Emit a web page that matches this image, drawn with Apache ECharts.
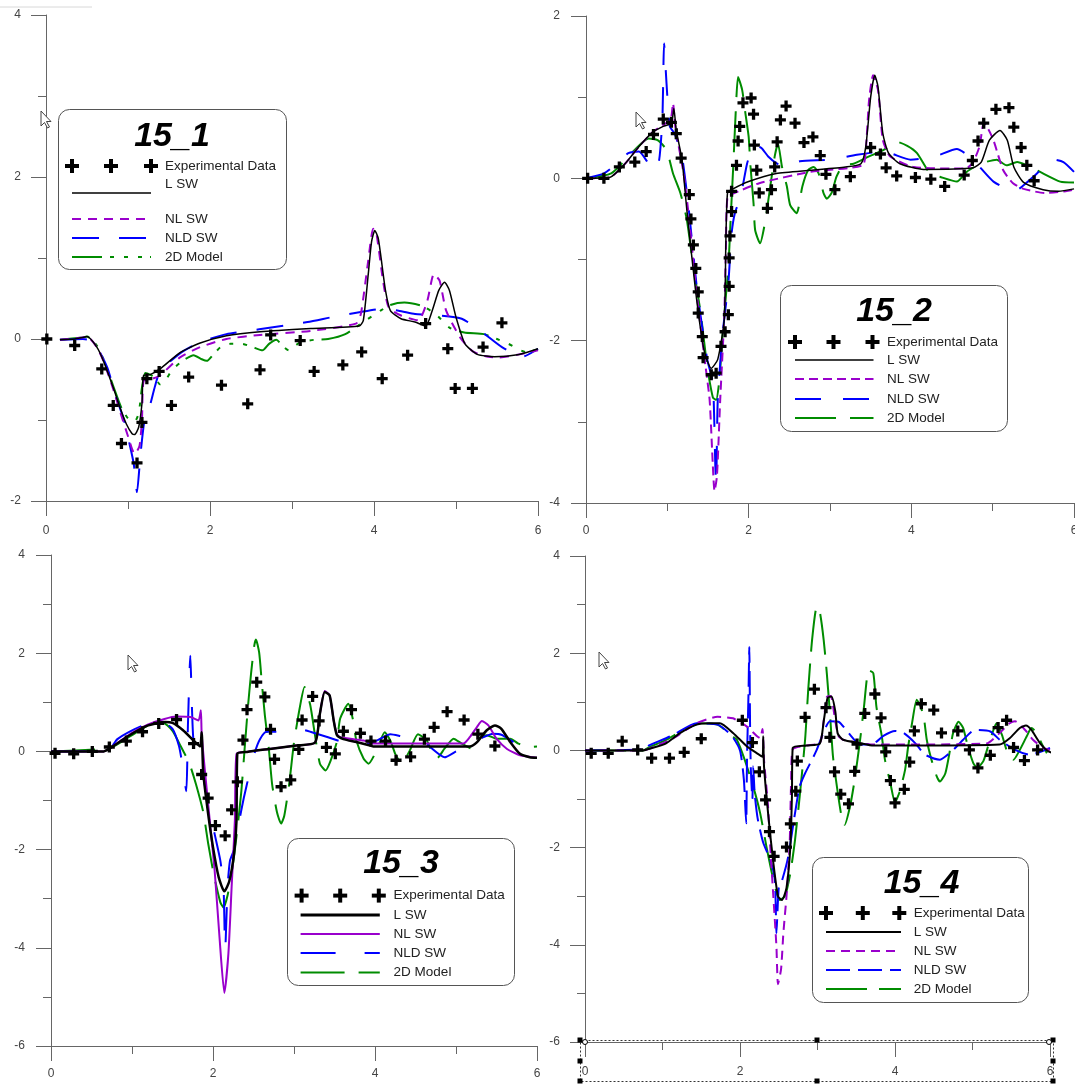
<!DOCTYPE html>
<html><head><meta charset="utf-8">
<script src="https://cdn.jsdelivr.net/npm/echarts@6.0.0/dist/echarts.min.js"></script>
<style>html,body{margin:0;padding:0;background:#fff}#c{width:1075px;height:1084px}</style>
</head><body><div id="c"></div>
<script>
// ---------------- DATA ----------------
const xTicks = [0, 2, 4, 6];
const panelTitles = ['15_1', '15_2', '15_3', '15_4'];
const seriesNames = ['Experimental Data', 'L SW', 'NL SW', 'NLD SW', '2D Model'];
const yRanges = [[-2, 4], [-4, 2], [-6, 4], [-6, 4]];

// Panel 15_1
const p1_exp = [[0.01,0.0],[0.35,-0.08],[0.68,-0.37],[0.82,-0.82],[0.92,-1.29],[1.11,-1.53],[1.17,-1.03],[1.23,-0.49],[1.38,-0.40],[1.53,-0.82],[1.74,-0.47],[2.14,-0.57],[2.46,-0.80],[2.61,-0.38],[2.74,0.05],[3.10,-0.02],[3.27,-0.40],[3.62,-0.32],[3.85,-0.16],[4.10,-0.49],[4.41,-0.20],[4.63,0.19],[4.90,-0.12],[4.99,-0.61],[5.20,-0.61],[5.33,-0.10],[5.56,0.20]];
const p1_lsw = [[0.17,-0.01],[0.35,0.0],[0.45,0.02],[0.5,0.03],[0.62,-0.10],[0.70,-0.27],[0.82,-0.60],[0.90,-0.84],[0.98,-1.05],[1.05,-1.17],[1.08,-1.18],[1.13,-1.09],[1.17,-0.80],[1.19,-0.45],[1.27,-0.44],[1.39,-0.37],[1.63,-0.17],[1.88,-0.05],[2.20,0.04],[2.61,0.09],[3.23,0.13],[3.82,0.16],[3.87,0.23],[3.93,0.80],[3.97,1.20],[4.01,1.34],[4.05,1.25],[4.08,1.05],[4.14,0.60],[4.20,0.35],[4.33,0.25],[4.50,0.21],[4.63,0.16],[4.71,0.35],[4.79,0.60],[4.86,0.70],[4.92,0.60],[5.00,0.27],[5.11,-0.06],[5.26,-0.19],[5.47,-0.22],[5.77,-0.19],[6.0,-0.12]];
const p1_nl = [[0.17,-0.01],[0.45,0.02],[0.5,0.03],[0.62,-0.10],[0.70,-0.27],[0.82,-0.62],[0.92,-0.95],[1.0,-1.20],[1.05,-1.36],[1.08,-1.42],[1.14,-1.32],[1.17,-1.0],[1.19,-0.52],[1.27,-0.50],[1.39,-0.45],[1.63,-0.23],[1.88,-0.10],[2.20,0.0],[2.61,0.05],[3.23,0.10],[3.78,0.19],[3.84,0.31],[3.93,0.97],[3.99,1.36],[4.03,1.30],[4.11,0.72],[4.18,0.39],[4.33,0.29],[4.54,0.23],[4.65,0.47],[4.73,0.80],[4.80,0.72],[4.88,0.35],[5.05,0.02],[5.20,-0.15],[5.35,-0.21],[5.51,-0.23],[5.77,-0.19],[6.0,-0.14]];
const p1_nld = [[0.17,-0.01],[0.45,0.0],[0.55,-0.02],[0.65,-0.15],[0.75,-0.36],[0.85,-0.70],[0.95,-1.0],[1.02,-1.30],[1.07,-1.54],[1.11,-1.89],[1.15,-1.45],[1.20,-1.01],[1.26,-0.85],[1.33,-0.58],[1.39,-0.40],[1.63,-0.18],[1.88,-0.04],[2.20,0.06],[2.60,0.12],[3.19,0.21],[3.49,0.27],[3.82,0.33],[4.08,0.37],[4.30,0.35],[4.50,0.31],[4.80,0.29],[5.07,0.25],[5.30,0.10],[5.56,-0.10],[5.81,-0.22],[6.0,-0.12]];
const p1_2d = [[0.17,-0.01],[0.45,0.02],[0.5,0.03],[0.62,-0.08],[0.70,-0.25],[0.82,-0.58],[0.92,-0.85],[1.0,-0.98],[1.08,-1.02],[1.13,-0.92],[1.17,-0.60],[1.21,-0.42],[1.27,-0.44],[1.33,-0.48],[1.39,-0.56],[1.45,-0.52],[1.54,-0.38],[1.68,-0.26],[1.80,-0.20],[1.90,-0.25],[1.96,-0.27],[2.05,-0.18],[2.13,-0.10],[2.25,-0.06],[2.39,-0.06],[2.52,-0.10],[2.64,-0.14],[2.72,-0.06],[2.81,-0.01],[2.88,-0.08],[2.96,-0.14],[3.03,-0.09],[3.10,-0.04],[3.27,-0.01],[3.44,0.0],[3.65,0.06],[3.87,0.21],[4.08,0.35],[4.20,0.42],[4.37,0.45],[4.58,0.41],[4.75,0.31],[4.92,0.14],[5.10,0.08],[5.34,0.06],[5.50,0.0],[5.64,-0.06],[5.85,-0.16],[6.0,-0.13]];

// Panel 15_2
const p2_exp = [[0.02,0],[0.22,0],[0.41,0.14],[0.60,0.20],[0.74,0.33],[0.83,0.54],[0.95,0.73],[1.05,0.69],[1.11,0.55],[1.17,0.25],[1.27,-0.20],[1.29,-0.50],[1.32,-0.82],[1.35,-1.11],[1.38,-1.40],[1.38,-1.66],[1.43,-1.95],[1.44,-2.21],[1.54,-2.42],[1.60,-2.40],[1.66,-2.07],[1.71,-1.89],[1.75,-1.68],[1.76,-1.33],[1.76,-0.98],[1.77,-0.71],[1.79,-0.41],[1.79,-0.16],[1.85,0.16],[1.87,0.46],[1.89,0.64],[1.93,0.93],[2.03,0.99],[2.06,0.79],[2.07,0.41],[2.10,0.10],[2.13,-0.18],[2.23,-0.37],[2.28,-0.14],[2.32,0.14],[2.35,0.45],[2.39,0.72],[2.46,0.89],[2.57,0.68],[2.68,0.44],[2.79,0.51],[2.88,0.28],[2.95,0.05],[3.06,-0.14],[3.25,0.02],[3.50,0.38],[3.62,0.30],[3.69,0.13],[3.82,0.03],[4.05,0.01],[4.24,-0.01],[4.41,-0.10],[4.65,0.04],[4.75,0.22],[4.82,0.46],[4.89,0.68],[5.04,0.85],[5.20,0.87],[5.26,0.63],[5.35,0.38],[5.42,0.16],[5.51,-0.03]];
const p2_lsw = [[0,0],[0.29,0.01],[0.48,0.18],[0.65,0.39],[0.82,0.57],[0.95,0.64],[1.05,0.68],[1.08,0.86],[1.11,0.59],[1.18,0.23],[1.24,-0.39],[1.35,-1.41],[1.45,-2.11],[1.54,-2.34],[1.62,-2.23],[1.70,-1.74],[1.72,-0.76],[1.74,-0.18],[1.79,-0.14],[2.0,-0.04],[2.34,0.06],[2.76,0.10],[3.19,0.14],[3.38,0.18],[3.44,0.39],[3.50,1.0],[3.55,1.27],[3.59,1.13],[3.65,0.55],[3.72,0.31],[3.86,0.18],[4.15,0.11],[4.76,0.13],[4.86,0.20],[4.96,0.47],[5.09,0.59],[5.18,0.47],[5.26,0.14],[5.38,-0.05],[5.62,-0.14],[5.81,-0.16],[6.0,-0.13]];
const p2_nl = [[0,0],[0.29,0.01],[0.48,0.18],[0.65,0.39],[0.82,0.57],[0.95,0.66],[1.04,0.72],[1.07,0.92],[1.10,0.62],[1.20,0.06],[1.26,-0.43],[1.37,-1.50],[1.47,-2.32],[1.52,-2.73],[1.56,-3.55],[1.58,-3.85],[1.61,-3.67],[1.65,-2.73],[1.70,-1.70],[1.72,-0.88],[1.74,-0.23],[1.83,-0.18],[2.13,-0.06],[2.76,0.08],[3.40,0.16],[3.44,0.35],[3.48,0.96],[3.53,1.27],[3.59,1.09],[3.65,0.47],[3.74,0.27],[4.03,0.14],[4.67,0.12],[4.76,0.20],[4.84,0.40],[4.89,0.68],[4.95,0.60],[5.01,0.47],[5.13,0.10],[5.25,-0.06],[5.38,-0.13],[5.64,-0.18],[5.90,-0.16],[6.0,-0.14]];
const p2_nld = [[0,0],[0.22,0.06],[0.40,0.20],[0.52,0.31],[0.65,0.33],[0.77,0.18],[0.84,0.10],[0.90,0.23],[0.94,0.76],[0.96,1.66],[0.99,1.17],[1.03,0.64],[1.09,0.55],[1.18,0.27],[1.26,-0.35],[1.37,-1.41],[1.49,-2.23],[1.56,-2.52],[1.59,-3.55],[1.60,-3.77],[1.62,-2.73],[1.68,-1.91],[1.75,-1.29],[1.79,-0.68],[1.83,-0.43],[1.90,-0.23],[1.98,0.18],[2.04,0.36],[2.08,0.41],[2.16,0.37],[2.24,0.27],[2.35,0.18],[2.45,0.14],[2.63,0.21],[3.0,0.23],[3.33,0.29],[3.66,0.33],[3.99,0.23],[4.29,0.27],[4.56,0.36],[4.70,0.28],[4.84,0.14],[5.01,-0.04],[5.26,-0.16],[5.50,0.02],[5.75,0.23],[5.87,0.20],[6.0,0.08]];
const p2_2d = [[0,0],[0.31,0.06],[0.56,0.31],[0.77,0.49],[0.88,0.47],[0.99,0.35],[1.07,0.06],[1.16,-0.18],[1.24,-0.51],[1.32,-1.09],[1.41,-1.66],[1.49,-2.32],[1.56,-2.70],[1.60,-2.73],[1.64,-2.48],[1.68,-1.91],[1.75,-1.09],[1.78,-0.47],[1.81,0.14],[1.84,0.80],[1.87,1.25],[1.92,1.09],[1.96,0.80],[2.0,0.51],[2.02,0.18],[2.06,-0.31],[2.08,-0.64],[2.14,-0.80],[2.20,-0.55],[2.26,-0.14],[2.32,0.27],[2.36,0.43],[2.41,0.14],[2.47,-0.10],[2.51,-0.33],[2.59,-0.43],[2.66,-0.10],[2.73,0.10],[2.80,0.14],[2.86,0.06],[2.92,-0.18],[2.96,-0.25],[3.02,-0.18],[3.08,0.02],[3.16,0.16],[3.29,0.18],[3.48,0.27],[3.66,0.35],[3.82,0.45],[3.95,0.40],[4.07,0.31],[4.23,0.06],[4.35,0.02],[4.56,-0.04],[4.68,0.08],[4.85,0.18],[5.05,0.23],[5.17,0.16],[5.30,0.20],[5.54,0.10],[5.83,-0.04],[6.0,-0.05]];

// Panel 15_3
const p3_exp = [[0.05,-0.04],[0.28,-0.05],[0.51,0.0],[0.72,0.09],[0.93,0.21],[1.13,0.40],[1.33,0.57],[1.55,0.65],[1.76,0.16],[1.86,-0.47],[1.94,-0.95],[2.03,-1.51],[2.15,-1.72],[2.23,-1.19],[2.30,-0.62],[2.37,0.23],[2.42,0.85],[2.54,1.41],[2.64,1.11],[2.71,0.45],[2.76,-0.16],[2.84,-0.72],[2.96,-0.58],[3.06,0.04],[3.10,0.64],[3.23,1.12],[3.31,0.62],[3.40,0.08],[3.51,-0.05],[3.61,0.41],[3.71,0.85],[3.82,0.37],[3.95,0.21],[4.13,0.21],[4.26,-0.18],[4.44,-0.11],[4.61,0.25],[4.73,0.49],[4.89,0.81],[5.10,0.64],[5.27,0.35],[5.48,0.11]];
const p3_lsw = [[0,0],[0.65,0],[0.77,0.11],[0.99,0.35],[1.20,0.53],[1.41,0.60],[1.50,0.58],[1.63,0.43],[1.76,0.22],[1.84,0.10],[1.86,0.39],[1.88,-0.45],[1.94,-1.27],[2.0,-1.95],[2.07,-2.56],[2.14,-2.85],[2.20,-2.65],[2.26,-2.08],[2.29,-1.41],[2.30,-0.05],[2.42,-0.01],[2.70,0.05],[3.03,0.12],[3.26,0.18],[3.32,0.77],[3.38,1.21],[3.44,1.14],[3.49,0.63],[3.53,0.33],[3.61,0.25],[3.77,0.19],[3.94,0.12],[3.98,0.10],[5.17,0.10],[5.26,0.19],[5.38,0.43],[5.48,0.53],[5.56,0.46],[5.67,0.19],[5.79,-0.05],[5.91,-0.12],[6.0,-0.13]];
const p3_nl = [[0,0],[0.65,0],[0.77,0.11],[0.99,0.37],[1.20,0.55],[1.40,0.66],[1.55,0.71],[1.72,0.70],[1.82,0.63],[1.85,0.84],[1.86,0.36],[1.90,-0.39],[1.96,-1.41],[2.02,-2.42],[2.08,-3.78],[2.14,-4.92],[2.19,-4.12],[2.23,-2.76],[2.27,-1.41],[2.29,-0.05],[2.42,-0.01],[2.70,0.05],[3.03,0.12],[3.26,0.18],[3.32,0.77],[3.38,1.23],[3.44,1.14],[3.49,0.63],[3.53,0.35],[3.57,0.29],[3.86,0.22],[3.98,0.16],[5.09,0.16],[5.17,0.29],[5.26,0.50],[5.32,0.62],[5.40,0.53],[5.50,0.26],[5.63,0.05],[5.79,-0.08],[6.0,-0.13]];
const p3_nld = [[0,0],[0.70,0.02],[0.82,0.25],[0.99,0.42],[1.20,0.57],[1.37,0.60],[1.50,0.46],[1.58,0.11],[1.62,-0.25],[1.67,-0.81],[1.69,0.50],[1.72,1.95],[1.74,0.90],[1.76,0.20],[1.80,0.09],[1.88,-0.52],[1.95,-1.13],[2.02,-1.68],[2.09,-2.22],[2.13,-2.76],[2.15,-4.06],[2.18,-2.76],[2.21,-2.22],[2.26,-2.0],[2.32,-1.45],[2.38,-0.95],[2.45,-0.45],[2.52,0.0],[2.58,0.25],[2.66,0.40],[2.83,0.40],[3.11,0.44],[3.22,0.39],[3.40,0.30],[3.61,0.19],[3.90,0.16],[4.02,0.22],[4.19,0.35],[4.35,0.30],[4.56,0.26],[4.68,0.09],[4.86,-0.12],[5.0,0.0],[5.21,0.16],[5.34,0.29],[5.46,0.36],[5.56,0.34],[5.70,0.20],[5.91,-0.01],[6.0,-0.08]];
const p3_2d = [[0,0],[0.73,0.07],[0.99,0.32],[1.20,0.53],[1.37,0.60],[1.50,0.42],[1.60,0.11],[1.71,-0.25],[1.79,-0.67],[1.88,-1.24],[1.94,-1.87],[2.01,-2.51],[2.09,-3.07],[2.13,-3.18],[2.18,-2.93],[2.24,-2.37],[2.30,-1.59],[2.35,-0.81],[2.39,0.04],[2.43,0.88],[2.47,1.59],[2.51,2.16],[2.53,2.28],[2.57,2.01],[2.60,1.45],[2.64,0.74],[2.69,0.04],[2.73,-0.67],[2.79,-1.24],[2.84,-1.47],[2.88,-1.31],[2.94,-0.67],[3.0,0.18],[3.07,0.88],[3.13,1.31],[3.20,0.95],[3.26,0.32],[3.32,-0.25],[3.39,-0.39],[3.45,-0.20],[3.53,0.20],[3.57,0.67],[3.67,0.97],[3.73,0.63],[3.77,0.22],[3.86,-0.15],[3.92,-0.25],[4.02,0.02],[4.12,0.39],[4.19,0.22],[4.25,-0.05],[4.33,-0.25],[4.43,0.02],[4.53,0.35],[4.64,0.22],[4.70,-0.01],[4.76,-0.15],[4.86,0.06],[4.97,0.26],[5.07,0.16],[5.19,0.06],[5.28,0.26],[5.38,0.33],[5.50,0.26],[5.67,0.26],[5.77,0.16],[5.91,0.09],[6.0,0.10]];

// Panel 15_4
const p4_exp = [[0.08,-0.06],[0.30,-0.06],[0.48,0.19],[0.68,0.01],[0.86,-0.16],[1.09,-0.16],[1.28,-0.04],[1.50,0.24],[2.03,0.62],[2.16,0.16],[2.25,-0.44],[2.33,-1.02],[2.38,-1.67],[2.44,-2.18],[2.60,-1.99],[2.65,-1.51],[2.72,-0.84],[2.74,-0.22],[2.84,0.68],[2.96,1.26],[3.11,0.88],[3.16,0.27],[3.22,-0.44],[3.30,-0.90],[3.40,-1.10],[3.48,-0.43],[3.51,0.13],[3.61,0.76],[3.74,1.16],[3.82,0.67],[3.88,-0.03],[3.94,-0.62],[4.0,-1.08],[4.12,-0.80],[4.19,-0.24],[4.25,0.40],[4.34,0.96],[4.50,0.83],[4.60,0.36],[4.81,0.40],[4.96,0.01],[5.07,-0.36],[5.23,-0.10],[5.33,0.47],[5.44,0.62],[5.53,0.06],[5.67,-0.21],[5.84,0.01]];
const p4_lsw = [[0,0],[0.75,0],[0.82,0.03],[1.04,0.14],[1.22,0.35],[1.44,0.53],[1.60,0.56],[1.74,0.56],[1.91,0.36],[2.09,0.08],[2.22,-0.06],[2.29,-0.13],[2.30,0.29],[2.31,-0.33],[2.37,-1.42],[2.43,-2.31],[2.49,-3.0],[2.54,-3.08],[2.60,-2.83],[2.65,-1.97],[2.67,-0.95],[2.68,0.05],[2.86,0.10],[3.03,0.14],[3.08,0.60],[3.13,1.08],[3.18,1.11],[3.23,0.80],[3.26,0.35],[3.33,0.22],[3.55,0.15],[3.72,0.10],[4.30,0.10],[5.35,0.12],[5.48,0.25],[5.61,0.46],[5.69,0.51],[5.76,0.42],[5.87,0.15],[5.98,-0.02],[6.13,-0.09],[6.24,-0.12]];
const p4_nl = [[0,0],[0.75,0.0],[0.82,0.03],[1.13,0.24],[1.44,0.56],[1.71,0.69],[1.91,0.66],[2.09,0.49],[2.22,0.29],[2.26,0.25],[2.29,0.44],[2.31,-0.20],[2.36,-1.11],[2.39,-1.97],[2.43,-3.0],[2.47,-4.03],[2.49,-4.81],[2.53,-4.50],[2.56,-3.75],[2.60,-3.0],[2.64,-1.97],[2.66,-0.60],[2.68,0.02],[2.86,0.10],[3.03,0.15],[3.08,0.60],[3.12,1.10],[3.17,1.12],[3.23,0.60],[3.27,0.30],[3.33,0.22],[3.55,0.15],[3.72,0.12],[5.18,0.14],[5.35,0.36],[5.48,0.56],[5.55,0.60],[5.68,0.42],[5.78,0.22],[5.91,0.05],[6.0,0.01]];
const p4_nld = [[0,0],[0.75,0.02],[0.82,0.10],[1.13,0.31],[1.44,0.56],[1.71,0.53],[1.89,0.31],[2.0,0.0],[2.05,-0.60],[2.08,-1.50],[2.09,-0.20],[2.11,1.20],[2.12,2.13],[2.13,0.50],[2.14,-0.40],[2.16,-1.0],[2.17,-0.33],[2.19,-0.90],[2.23,-1.42],[2.30,-1.90],[2.39,-2.25],[2.45,-2.66],[2.47,-3.76],[2.50,-2.83],[2.54,-2.69],[2.62,-2.20],[2.71,-1.29],[2.77,-0.74],[2.84,-0.47],[2.93,-0.19],[2.99,0.01],[3.06,0.30],[3.16,0.60],[3.27,0.59],[3.40,0.36],[3.55,0.12],[3.70,0.12],[3.85,0.30],[4.0,0.40],[4.11,0.36],[4.26,0.15],[4.39,-0.09],[4.58,-0.19],[4.75,0.01],[4.88,0.22],[5.03,0.42],[5.23,0.39],[5.35,0.22],[5.55,0.01],[5.74,-0.09],[6.0,0.05]];
const p4_2d = [[0,0],[0.75,0.0],[0.82,0.06],[1.04,0.21],[1.27,0.42],[1.49,0.56],[1.71,0.53],[1.91,0.28],[1.96,0.22],[2.06,-0.19],[2.17,-0.74],[2.26,-1.29],[2.34,-1.97],[2.43,-2.66],[2.51,-3.08],[2.58,-3.0],[2.65,-2.52],[2.71,-1.84],[2.77,-0.95],[2.84,0.22],[2.88,1.24],[2.93,2.27],[2.99,2.95],[3.03,2.85],[3.08,2.27],[3.12,1.59],[3.16,0.77],[3.20,-0.13],[3.25,-0.74],[3.31,-1.36],[3.35,-1.53],[3.42,-1.15],[3.48,-0.60],[3.55,0.22],[3.60,0.90],[3.66,1.65],[3.72,1.59],[3.76,0.90],[3.83,0.29],[3.87,-0.19],[3.94,-0.67],[4.0,-1.07],[4.06,-0.85],[4.13,-0.40],[4.17,0.08],[4.22,0.56],[4.28,1.04],[4.32,0.94],[4.37,0.70],[4.41,0.22],[4.47,-0.19],[4.54,-0.54],[4.58,-0.64],[4.65,-0.47],[4.71,0.01],[4.75,0.36],[4.82,0.59],[4.88,0.46],[4.94,0.08],[5.01,-0.26],[5.06,-0.36],[5.14,-0.22],[5.20,0.08],[5.27,0.42],[5.31,0.56],[5.38,0.32],[5.44,0.01],[5.53,-0.19],[5.61,0.01],[5.70,0.29],[5.76,0.46],[5.83,0.36],[5.89,0.15],[5.96,-0.06]];

// ---------------- STYLE / LAYOUT ----------------
const FONT = "'Liberation Sans', Arial, sans-serif";
const AX = '#666666';
const C_L = '#000000', C_NL = '#9900cc', C_NLD = '#0000ff', C_2D = '#008c00';
const PLUS = 'path://M3.5,0H6.5V3.5H10V6.5H6.5V10H3.5V6.5H0V3.5H3.5Z';

const grids = [
  {left: 46, top: 15, width: 492, height: 486},
  {left: 586, top: 16, width: 488, height: 487},
  {left: 51, top: 555, width: 486, height: 491},
  {left: 585, top: 556, width: 465, height: 486}
];
const xLabelMargin = [24, 22, 22, 24];
const yLabelMargin = [25, 26, 26, 25];

// per-panel line styles: [width, dash] for L, NL, NLD, 2D
const styles = [
  {L: [1.5, 'solid'], NL: [2, [9, 7]], NLD: [2, [27, 20]], D2: [2, [30, 8, 4, 10, 4, 10, 4, 8]]},
  {L: [1.5, 'solid'], NL: [2, [9, 5]], NLD: [2, [26, 22]], D2: [2, [41, 14]]},
  {L: [2.5, 'solid'], NL: [2, 'solid'], NLD: [2, [35, 29]], D2: [2, [44, 14]]},
  {L: [2, 'solid'], NL: [2, [9, 6]], NLD: [2, [24, 8]], D2: [2, [41, 12]]}
];
const panelData = [
  [p1_exp, p1_lsw, p1_nl, p1_nld, p1_2d],
  [p2_exp, p2_lsw, p2_nl, p2_nld, p2_2d],
  [p3_exp, p3_lsw, p3_nl, p3_nld, p3_2d],
  [p4_exp, p4_lsw, p4_nl, p4_nld, p4_2d]
];

const xAxes = [], yAxes = [], series = [];
grids.forEach((g, i) => {
  g.outerBoundsMode = 'none';
  g.containLabel = false;
  const common = {
    type: 'value',
    gridIndex: i,
    axisLine: {show: true, onZero: false, lineStyle: {color: AX, width: 1}},
    axisTick: {show: true, inside: false, length: 15, lineStyle: {color: AX, width: 1}},
    minorTick: {show: true, splitNumber: 2, length: 8, lineStyle: {color: AX, width: 1}},
    splitLine: {show: false},
    minorSplitLine: {show: false}
  };
  xAxes.push(Object.assign({}, common, {
    min: xTicks[0], max: xTicks[xTicks.length - 1], interval: 2,
    axisLabel: {margin: xLabelMargin[i], color: '#444', fontSize: 12, fontFamily: FONT}
  }));
  yAxes.push(Object.assign({}, common, {
    min: yRanges[i][0], max: yRanges[i][1], interval: 2,
    axisLabel: {margin: yLabelMargin[i], color: '#444', fontSize: 12, fontFamily: FONT}
  }));
  const d = panelData[i], s = styles[i];
  const mk = (name, data, color, st, z) => ({
    name, type: 'line', xAxisIndex: i, yAxisIndex: i, data,
    showSymbol: false, symbol: 'none', smooth: 0.2, clip: false,
    lineStyle: {color, width: st[0], type: st[1], cap: 'butt', join: 'round', opacity: 1},
    z, silent: true
  });
  series.push(mk('2D Model', d[4], C_2D, s.D2, 2));
  series.push(mk('NLD SW', d[3], C_NLD, s.NLD, 3));
  series.push(mk('NL SW', d[2], C_NL, s.NL, 4));
  series.push(mk('L SW', d[1], C_L, s.L, 5));
  series.push({
    name: 'Experimental Data', type: 'scatter', xAxisIndex: i, yAxisIndex: i,
    data: d[0], symbol: PLUS, symbolSize: 11, itemStyle: {color: '#000', opacity: 1}, z: 10, silent: true
  });
});

// ---------------- LEGEND BOXES (graphic) ----------------
const legends = [
  {box: [58, 109, 228, 160], title: [172, 137], plus: [72, 111, 151], rowY: [166, 184, 219, 238, 257], lineY: [193, 219, 238, 257], lx: [72, 151], tx: 165},
  {box: [780, 285, 227, 146], title: [894, 312], plus: [795, 833.5, 872.5], rowY: [342, 360, 379, 399, 418], lineY: [360, 379, 399, 418], lx: [795, 873.5], tx: 887},
  {box: [287, 838, 227, 147], title: [401, 864], plus: [301.6, 340.2, 378.8], rowY: [895.6, 915, 934, 953, 972.4], lineY: [915, 934, 953, 972.4], lx: [300.6, 379.8], tx: 393.6},
  {box: [812, 857, 216, 145], title: [921.5, 883.4], plus: [826, 862.8, 899.3], rowY: [913, 932, 951, 970, 989], lineY: [932, 951, 970, 989], lx: [826, 901], tx: 913.8}
];
const graphics = [];
function plusShape(cx, cy, size, th) {
  graphics.push({type: 'rect', z: 100, shape: {x: cx - size / 2, y: cy - th / 2, width: size, height: th}, style: {fill: '#000'}});
  graphics.push({type: 'rect', z: 100, shape: {x: cx - th / 2, y: cy - size / 2, width: th, height: size}, style: {fill: '#000'}});
}
legends.forEach((L, i) => {
  const s = styles[i];
  graphics.push({type: 'rect', z: 90, shape: {x: L.box[0] + 0.5, y: L.box[1] + 0.5, width: L.box[2], height: L.box[3], r: 11},
    style: {fill: '#fff', stroke: '#555', lineWidth: 1}});
  graphics.push({type: 'text', z: 100, style: {text: panelTitles[i], x: L.title[0], y: L.title[1], align: 'center', verticalAlign: 'middle',
    textAlign: 'center', textVerticalAlign: 'middle', font: "italic bold 34px 'Liberation Sans', Arial, sans-serif", fill: '#000'}});
  L.plus.forEach(px => plusShape(px, L.rowY[0], 14, 4));
  seriesNames.forEach((nm, k) => {
    graphics.push({type: 'text', z: 100, style: {text: nm, x: L.tx, y: L.rowY[k], align: 'left', verticalAlign: 'middle',
      textAlign: 'left', textVerticalAlign: 'middle', font: "13.5px 'Liberation Sans', Arial, sans-serif", fill: '#222'}});
  });
  const lineDefs = [[C_L, s.L], [C_NL, s.NL], [C_NLD, s.NLD], [C_2D, s.D2]];
  lineDefs.forEach((ld, k) => {
    const st = {stroke: ld[0], lineWidth: ld[1][0] + (i === 2 && k === 0 ? 0.5 : 0)};
    if (Array.isArray(ld[1][1])) st.lineDash = ld[1][1];
    graphics.push({type: 'line', z: 100, shape: {x1: L.lx[0], y1: L.lineY[k], x2: L.lx[1], y2: L.lineY[k]}, style: st});
  });
});

// mouse cursor arrows
[[41, 111], [636, 112], [128, 655], [599, 652]].forEach(p => {
  const [x, y] = p;
  graphics.push({type: 'polygon', z: 110, shape: {points: [[x, y], [x, y + 15], [x + 3.5, y + 11.5], [x + 6.5, y + 17], [x + 8.5, y + 16], [x + 5.5, y + 10.5], [x + 10, y + 10.5]]},
    style: {fill: '#fff', stroke: '#444', lineWidth: 1}});
});

// thin grey line top-left
graphics.push({type: 'line', z: 1, shape: {x1: 0, y1: 7, x2: 92, y2: 7}, style: {stroke: '#d8d8d8', lineWidth: 1}});

// selection frame around bottom-right x axis
graphics.push({type: 'rect', z: 120, shape: {x: 580.5, y: 1040.5, width: 473, height: 41}, style: {fill: 'none', stroke: '#333', lineWidth: 1, lineDash: [2, 2]}});
[[580, 1040], [817, 1040], [1053, 1040], [580, 1061], [1053, 1061], [580, 1081], [817, 1081], [1053, 1081]].forEach(p => {
  graphics.push({type: 'rect', z: 121, shape: {x: p[0] - 2.5, y: p[1] - 2.5, width: 5, height: 5}, style: {fill: '#000'}});
});
[[585, 1042], [1049, 1042]].forEach(p => {
  graphics.push({type: 'circle', z: 122, shape: {cx: p[0], cy: p[1], r: 2.5}, style: {fill: '#fff', stroke: '#000', lineWidth: 1}});
});

const chart = echarts.init(document.getElementById('c'), null, {renderer: 'canvas'});
chart.setOption({
  animation: false,
  backgroundColor: '#ffffff',
  textStyle: {fontFamily: FONT},
  grid: grids,
  xAxis: xAxes,
  yAxis: yAxes,
  series: series,
  graphic: graphics
});
</script></body></html>
